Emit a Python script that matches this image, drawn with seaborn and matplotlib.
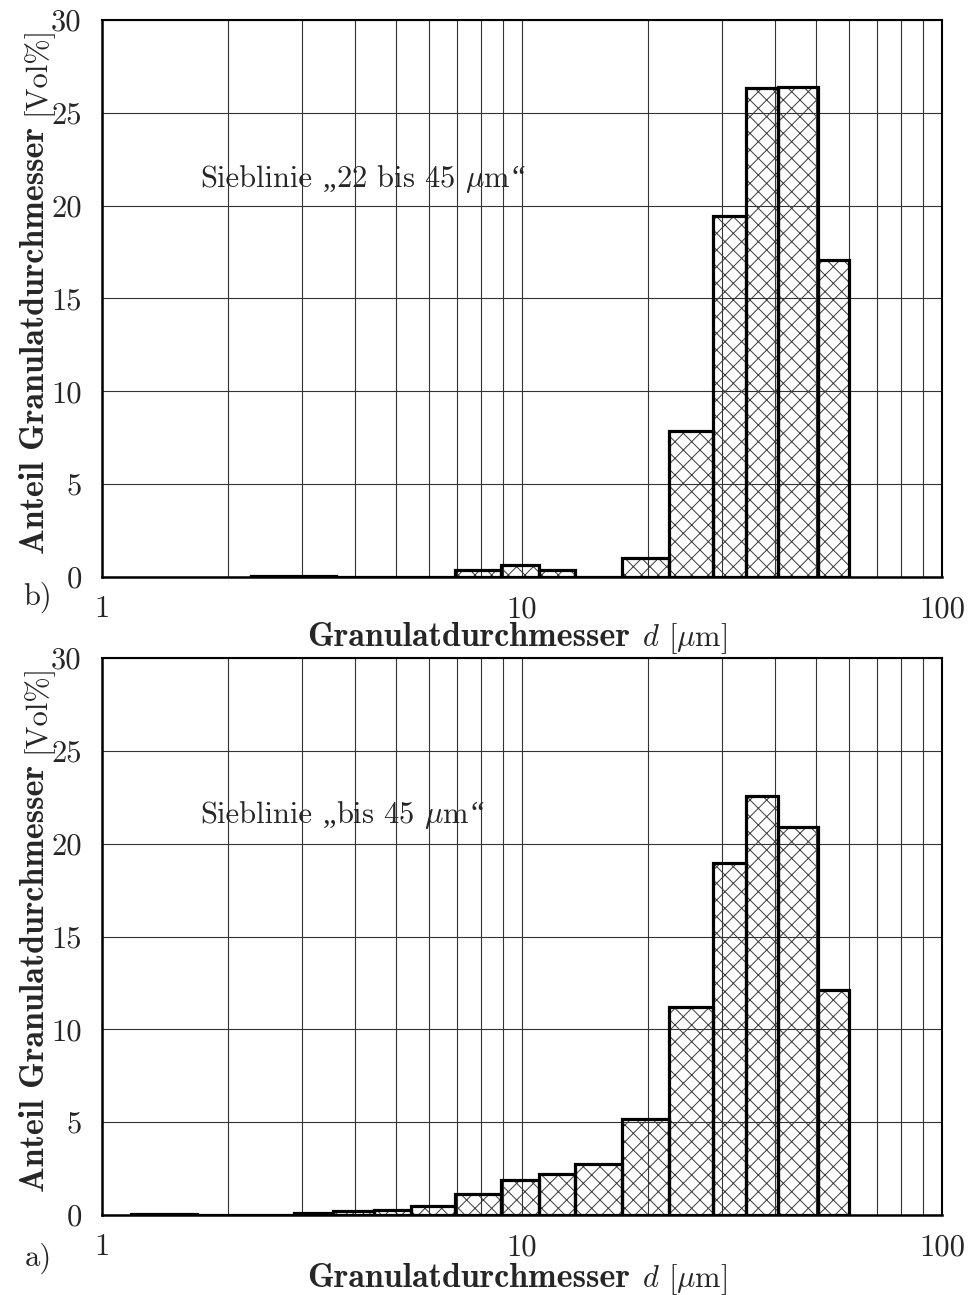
import numpy as np
import pandas as pd
import matplotlib
matplotlib.use("Agg")
import matplotlib.pyplot as plt
from matplotlib.ticker import NullFormatter, LogLocator, FixedLocator
import seaborn as sns

# Particle size classes (bin edges in µm) and volume fractions in Vol%
edges_b = [2.26, 3.60, 6.92, 8.92, 10.95, 13.4, 17.3, 22.4, 28.5, 34.2, 40.6, 50.8, 60.0]
vol_b = [0.05, 0.0, 0.36, 0.63, 0.36, 0.0, 1.05, 7.85, 19.45, 26.35, 26.4, 17.1]

edges_a = [1.17, 1.68, 2.87, 3.55, 4.44, 5.43, 6.92, 8.92, 10.95, 13.4, 17.3,
           22.4, 28.5, 34.2, 40.6, 50.8, 60.0]
vol_a = [0.04, 0.0, 0.12, 0.20, 0.28, 0.50, 1.15, 1.88, 2.20, 2.72, 5.15,
         11.2, 18.95, 22.55, 20.9, 12.1]

label_b = "b)"
label_a = "a)"
curve_b = ["Sieblinie", "\u201e", "22 bis 45 $\\mu$m", "\u201c"]
curve_a = ["Sieblinie", "\u201e", "bis 45 $\\mu$m", "\u201c"]

xticks = [1, 10, 100]
xtick_labels = ["1", "10", "100"]
yticks = [0, 5, 10, 15, 20, 25, 30]
ytick_labels = ["0", "5", "10", "15", "20", "25", "30"]

xlabel_bold, xlabel_rest = "Granulatdurchmesser", "$d$ [$\\mu$m]"
ylabel_bold, ylabel_rest = "Anteil Granulatdurchmesser", "[Vol%]"

sns.set_style("white")
plt.rcParams["font.family"] = ["cmr10", "DejaVu Serif"]
plt.rcParams["mathtext.fontset"] = "cm"
plt.rcParams["axes.formatter.use_mathtext"] = True
plt.rcParams["axes.unicode_minus"] = False
plt.rcParams["hatch.linewidth"] = 0.7
plt.rcParams["hatch.color"] = "#3a3a3a"

FS = 22
FS_BOLD = 24.5
ROMAN = dict(family="cmr10", fontsize=FS)
BOLD = dict(family="cmb10", fontsize=FS_BOLD)
QUOTE = dict(family="Liberation Serif", fontsize=FS)
SPACE = 10.5  # word space in pixels

W, H = 969, 1295
fig = plt.figure(figsize=(W / 100, H / 100), dpi=100)
fig.patch.set_facecolor("white")
renderer = fig.canvas.get_renderer()

L, R = 102, 942
ax_b = fig.add_axes([L / W, 1 - 577 / H, (R - L) / W, 557 / H])
ax_a = fig.add_axes([L / W, 1 - 1215 / H, (R - L) / W, 557 / H])


def text_run(x, y, pieces, vertical=False, anchor="start"):
    """Lay out differently styled text pieces one after another.

    x, y are pixel positions (origin at the lower left); pieces is a list of
    (string, style, gap_after)."""
    rot = 90 if vertical else 0
    objs, sizes = [], []
    for s, style, gap in pieces:
        t = fig.text(0, 0, s, rotation=rot, rotation_mode="anchor",
                     ha="left", va="baseline", **style)
        bb = t.get_window_extent(renderer)
        objs.append((t, gap))
        sizes.append(bb.height if vertical else bb.width)
    total = sum(sizes) + sum(g for _, g in objs[:-1])
    pos = (y if vertical else x) - (total / 2 if anchor == "center" else 0)
    for (t, gap), size in zip(objs, sizes):
        if vertical:
            t.set_position((x / W, pos / H))
        else:
            t.set_position((pos / W, y / H))
        pos += size + gap


def draw_panel(ax, edges, vol):
    e = np.asarray(edges, dtype=float)
    centers = np.sqrt(e[:-1] * e[1:])
    df = pd.DataFrame({"d": centers, "vol": vol})
    bins = list(edges)
    # hatched fill
    sns.histplot(data=df, x="d", weights="vol", bins=bins, ax=ax,
                 stat="count", element="bars", fill=True, alpha=1,
                 facecolor="none", edgecolor="#3a3a3a", linewidth=0,
                 hatch="xx", zorder=3)
    # bold outlines
    sns.histplot(data=df, x="d", weights="vol", bins=bins, ax=ax,
                 stat="count", element="bars", fill=False, color="black",
                 linewidth=2.3, zorder=4)
    ax.set_xscale("log")
    ax.set_xlim(1, 100)
    ax.set_ylim(0, 30)

    ax.xaxis.set_major_locator(FixedLocator(xticks))
    ax.set_xticklabels(xtick_labels)
    ax.xaxis.set_minor_locator(LogLocator(base=10, subs=np.arange(2, 10)))
    ax.xaxis.set_minor_formatter(NullFormatter())
    ax.set_yticks(yticks)
    ax.set_yticklabels(ytick_labels)

    ax.grid(True, which="both", axis="x", color="#333333", linewidth=0.8)
    ax.grid(True, which="major", axis="y", color="#333333", linewidth=0.8)
    ax.set_axisbelow(True)

    ax.tick_params(axis="both", which="major", direction="out", length=8.5,
                   width=1.6, labelsize=FS, color="black", pad=5)
    ax.tick_params(axis="x", which="minor", length=0)
    ax.tick_params(axis="y", which="major", pad=6)
    for side, sp in ax.spines.items():
        sp.set_visible(True)
        sp.set_color("black")
        sp.set_linewidth(1.8 if side in ("left", "bottom") else 1.5)
        sp.set_zorder(5)
    ax.set_xlabel("")
    ax.set_ylabel("")


def annotate_panel(ax, curve, curve_y, panel_label, panel_y, xlab_base, ylab_mid):
    # curve name inside the axes, anchored at a data position
    px, py = ax.transData.transform((1.71, curve_y))
    text_run(px, py, [(curve[0], ROMAN, SPACE), (curve[1], QUOTE, 0),
                      (curve[2], ROMAN, 1), (curve[3], QUOTE, 0)])
    # axis titles
    text_run(517, H - xlab_base, [(xlabel_bold, BOLD, SPACE + 1),
                                  (xlabel_rest, ROMAN, 0)], anchor="center")
    text_run(44, H - ylab_mid, [(ylabel_bold, BOLD, SPACE + 1),
                                (ylabel_rest, ROMAN, 0)],
             vertical=True, anchor="center")
    fig.text(38 / W, 1 - panel_y / H, panel_label, fontsize=FS,
             family="cmr10", ha="center", va="center")


draw_panel(ax_b, edges_b, vol_b)
draw_panel(ax_a, edges_a, vol_a)
annotate_panel(ax_b, curve_b, 21.0, label_b, 597, 646, 290)
annotate_panel(ax_a, curve_a, 21.1, label_a, 1258, 1287, 928)

fig.savefig("out.png", dpi=100, facecolor="white")
